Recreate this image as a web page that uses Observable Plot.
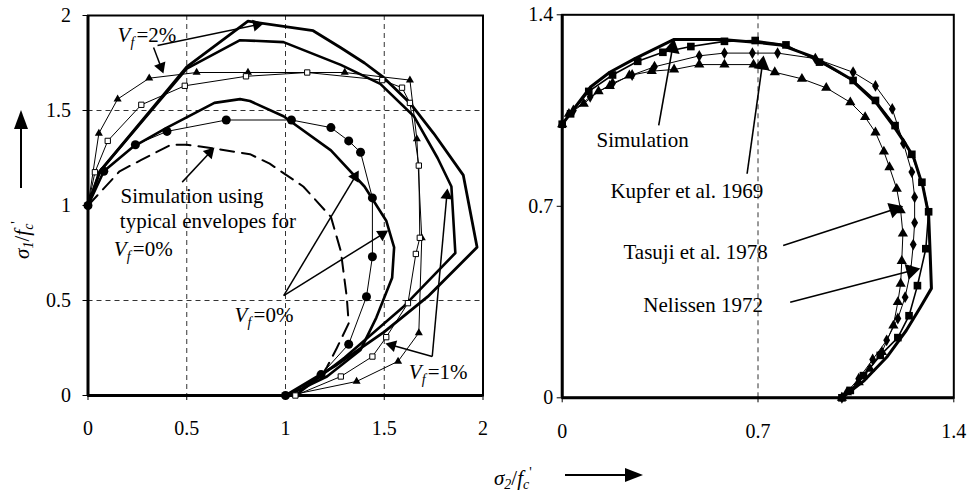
<!DOCTYPE html>
<html><head><meta charset="utf-8">
<script src="https://cdn.jsdelivr.net/npm/d3@7"></script>
<script src="https://cdn.jsdelivr.net/npm/@observablehq/plot@0.6"></script>
<style>
body{margin:0;background:#fff;}
#wrap{position:relative;width:969px;height:491px;font-family:"Liberation Serif","Times New Roman",serif;color:#000;overflow:hidden;}
#left{position:absolute;left:0;top:0;}
#right{position:absolute;left:490px;top:0;}
.ttl{position:absolute;font-size:21px;white-space:nowrap;line-height:21px;}
.ttl sub{font-size:14px;vertical-align:-4px;}
.ttl sup{font-size:14px;vertical-align:8px;}
</style></head><body>
<div id="wrap">
<div id="left"></div><div id="right"></div>
<div class="ttl" style="left:22px;top:240px;transform:translate(-50%,-50%) rotate(-90deg);"><i>σ</i><sub><i>1</i></sub>/<i>f</i><sub><i>c</i></sub><sup>'</sup></div>
<svg style="position:absolute;left:10px;top:105px" width="24" height="90"><line x1="11" y1="83" x2="11" y2="20" stroke="#000" stroke-width="2"/><polygon points="11,5 4,24 18,24" fill="#000"/></svg>
<div class="ttl" style="left:494px;top:462px;"><i>σ</i><sub><i>2</i></sub>/<i>f</i><sub><i>c</i></sub><sup>'</sup></div>
<svg style="position:absolute;left:562px;top:465px" width="90" height="20"><line x1="3" y1="10" x2="68" y2="10" stroke="#000" stroke-width="2"/><polygon points="81,10 63,3 63,17" fill="#000"/></svg>
</div>
<script>
// ---------------- LEFT PANEL DATA ----------------
const leftTicks = [0, 0.5, 1, 1.5, 2];
const leftGridX = [0.5, 1, 1.5];
const leftGridY = [0.5, 1.5];

// Vf = 2% experiment (triangles)
const vf2ExpX = [0, 0.055, 0.15, 0.31, 0.55, 0.81, 1.30, 1.63, 1.665, 1.69, 1.675, 1.57, 1.36, 1.04];
const vf2ExpY = [1, 1.38, 1.56, 1.67, 1.70, 1.70, 1.70, 1.66, 1.35, 0.83, 0.33, 0.18, 0.074, 0.005];
// Vf = 1% experiment (open squares)
const vf1ExpX = [0, 0.035, 0.10, 0.27, 0.49, 0.80, 1.11, 1.49, 1.59, 1.63, 1.675, 1.68, 1.66, 1.62, 1.51, 1.44, 1.28, 1.05];
const vf1ExpY = [1, 1.175, 1.34, 1.53, 1.63, 1.68, 1.70, 1.66, 1.62, 1.54, 1.21, 0.83, 0.745, 0.486, 0.307, 0.205, 0.10, 0];
// Vf = 0% experiment (filled circles)
const vf0ExpX = [0, 0.08, 0.24, 0.40, 0.70, 1.03, 1.23, 1.32, 1.38, 1.44, 1.44, 1.41, 1.32, 1.18, 1.0];
const vf0ExpY = [1, 1.18, 1.32, 1.39, 1.45, 1.45, 1.41, 1.34, 1.28, 1.04, 0.73, 0.52, 0.27, 0.11, 0];
// Simulations (thick)
const vf2SimX = [0, 0.06, 0.5, 0.81, 1.14, 1.28, 1.40, 1.49, 1.63, 1.75, 1.90, 1.97, 1.72, 1.5, 1.25, 1.0];
const vf2SimY = [1, 1.18, 1.73, 1.97, 1.92, 1.83, 1.75, 1.68, 1.54, 1.38, 1.16, 0.78, 0.52, 0.335, 0.155, 0];
const vf1SimX = [0, 0.06, 0.5, 0.77, 0.99, 1.28, 1.48, 1.65, 1.77, 1.84, 1.86, 1.6, 1.3, 1.05];
const vf1SimY = [1, 1.18, 1.72, 1.87, 1.86, 1.74, 1.64, 1.47, 1.25, 1.10, 0.75, 0.47, 0.2, 0];
const vf0SimX = [0, 0.08, 0.23, 0.40, 0.64, 0.77, 0.82, 0.99, 1.23, 1.40, 1.51, 1.55, 1.54, 1.46, 1.38, 1.21, 1.01];
const vf0SimY = [1, 1.18, 1.31, 1.41, 1.54, 1.56, 1.55, 1.47, 1.29, 1.10, 0.92, 0.78, 0.62, 0.41, 0.24, 0.10, 0];
// Simulation with typical envelopes, Vf = 0% (dashed)
const typSimX = [0, 0.16, 0.27, 0.42, 0.50, 0.64, 0.82, 0.92, 1.09, 1.23, 1.28, 1.31, 1.32, 1.26, 1.21, 1.18, 1.0];
const typSimY = [1, 1.18, 1.24, 1.32, 1.32, 1.30, 1.27, 1.22, 1.10, 0.94, 0.76, 0.52, 0.38, 0.25, 0.15, 0.10, 0];

const leftTexts = [
  {x: 0.165, y: 1.011, t: "Simulation using"},
  {x: 0.161, y: 0.879, t: "typical envelopes for"}
];
const leftVf = [
  {x: 0.149, y: 1.858, v: "2%"},
  {x: 0.131, y: 0.732, v: "0%"},
  {x: 0.742, y: 0.389, v: "0%"},
  {x: 1.624, y: 0.089, v: "1%"}
];
const leftArrows = [
  {x1: 0.332, y1: 1.832, x2: 0.382, y2: 1.695},
  {x1: 0.352, y1: 1.842, x2: 0.889, y2: 1.958},
  {x1: 0.477, y1: 1.123, x2: 0.640, y2: 1.305},
  {x1: 0.991, y1: 0.526, x2: 1.371, y2: 1.184},
  {x1: 0.991, y1: 0.526, x2: 1.520, y2: 0.868},
  {x1: 1.743, y1: 0.205, x2: 1.506, y2: 0.274},
  {x1: 1.743, y1: 0.205, x2: 1.820, y2: 1.090}
];

// ---------------- RIGHT PANEL DATA ----------------
const rightTicks = [0, 0.7, 1.4];
const rightGridX = [0.7];
const simRX = [0, 0.10, 0.17, 0.26, 0.40, 0.57, 0.69, 0.78, 0.90, 1.03, 1.125, 1.18, 1.226, 1.256, 1.29, 1.31, 1.315, 1.32, 1.28, 1.23, 1.16, 1.08, 1.0];
const simRY = [1, 1.135, 1.19, 1.24, 1.31, 1.31, 1.30, 1.29, 1.245, 1.166, 1.075, 1.0, 0.93, 0.88, 0.77, 0.67, 0.54, 0.40, 0.33, 0.246, 0.148, 0.063, 0];
const kupferX = [0, 0.03, 0.095, 0.18, 0.27, 0.36, 0.46, 0.58, 0.69, 0.80, 0.92, 1.04, 1.12, 1.19, 1.25, 1.286, 1.31, 1.30, 1.27, 1.24, 1.20, 1.137, 1.077, 1.03, 1.0];
const kupferY = [1, 1.038, 1.12, 1.18, 1.23, 1.263, 1.284, 1.303, 1.306, 1.29, 1.227, 1.16, 1.087, 0.995, 0.89, 0.788, 0.68, 0.545, 0.41, 0.30, 0.22, 0.155, 0.081, 0.027, 0];
const nelissenX = [0, 0.04, 0.10, 0.18, 0.25, 0.33, 0.49, 0.58, 0.68, 0.77, 0.905, 1.04, 1.12, 1.18, 1.22, 1.25, 1.26, 1.26, 1.255, 1.246, 1.226, 1.20, 1.16, 1.11, 1.06, 1.0];
const nelissenY = [1, 1.05, 1.10, 1.15, 1.18, 1.21, 1.25, 1.26, 1.26, 1.26, 1.24, 1.19, 1.14, 1.056, 0.93, 0.825, 0.733, 0.64, 0.56, 0.465, 0.368, 0.29, 0.21, 0.14, 0.07, 0];
const tasujiX = [0, 0.024, 0.077, 0.13, 0.17, 0.24, 0.32, 0.40, 0.49, 0.58, 0.684, 0.76, 0.857, 0.944, 1.03, 1.083, 1.12, 1.15, 1.17, 1.196, 1.21, 1.218, 1.214, 1.21, 1.20, 1.184, 1.143, 1.10, 1.06, 1.018, 1.0];
const tasujiY = [1, 1.038, 1.075, 1.12, 1.14, 1.178, 1.194, 1.20, 1.218, 1.218, 1.218, 1.19, 1.166, 1.133, 1.08, 1.026, 0.97, 0.90, 0.843, 0.764, 0.685, 0.60, 0.50, 0.417, 0.35, 0.264, 0.167, 0.106, 0.057, 0.02, 0];

const rightTexts = [
  {x: 0.1225, y: 0.915, t: "Simulation"},
  {x: 0.1725, y: 0.732, t: "Kupfer et al. 1969"},
  {x: 0.219, y: 0.509, t: "Tasuji et al. 1978"},
  {x: 0.290, y: 0.313, t: "Nelissen 1972"}
];
const rightArrows = [
  {x1: 0.345, y1: 0.996, x2: 0.400, y2: 1.312},
  {x1: 0.661, y1: 0.819, x2: 0.720, y2: 1.251},
  {x1: 0.790, y1: 0.557, x2: 1.219, y2: 0.700},
  {x1: 0.815, y1: 0.349, x2: 1.280, y2: 0.473}
];

// ---------------- HELPERS ----------------
const pts = (xs, ys) => xs.map((x, i) => ({x, y: ys[i]}));
const FONT = "'Liberation Serif', 'Times New Roman', serif";

function arrowMarks(arrows, xDom, xRng, yDom, yRng, headR, sw) {
  const xs = d3.scaleLinear(xDom, xRng), ys = d3.scaleLinear(yDom, yRng);
  const k = 2 * Math.sqrt(Math.PI * headR * headR / (3 * Math.sqrt(3)));
  const segs = arrows.map(a => {
    const px1 = xs(a.x1), py1 = ys(a.y1), px2 = xs(a.x2), py2 = ys(a.y2);
    const dx = px2 - px1, dy = py2 - py1, len = Math.hypot(dx, dy);
    const ux = dx / len, uy = dy / len;
    return {
      x1: a.x1, y1: a.y1,
      cx: xs.invert(px2 - ux * k), cy: ys.invert(py2 - uy * k),
      rot: Math.atan2(ux, -uy) * 180 / Math.PI
    };
  });
  return [
    Plot.link(segs, {x1: "x1", y1: "y1", x2: "cx", y2: "cy", stroke: "#000", strokeWidth: sw}),
    Plot.dot(segs, {x: "cx", y: "cy", symbol: "triangle", r: headR, rotate: "rot", fill: "#000", stroke: "none"})
  ];
}

function vfMarks(labels) {
  return [
    Plot.text(labels, {x: "x", y: "y", text: () => "V", fontStyle: "italic", fontSize: 21, textAnchor: "start", lineAnchor: "bottom"}),
    Plot.text(labels, {x: "x", y: "y", text: () => "f", fontStyle: "italic", fontSize: 14, textAnchor: "start", lineAnchor: "bottom", dx: 13, dy: 5}),
    Plot.text(labels, {x: "x", y: "y", text: d => "=" + d.v, fontSize: 21, textAnchor: "start", lineAnchor: "bottom", dx: 19})
  ];
}

// ---------------- LEFT PLOT ----------------
const L = {width: 490, height: 470, ml: 87.5, mr: 7.5, mt: 15, mb: 75};
const leftPlot = Plot.plot({
  width: L.width, height: L.height,
  marginLeft: L.ml, marginRight: L.mr, marginTop: L.mt, marginBottom: L.mb,
  style: {fontFamily: FONT, fontSize: "20px", background: "transparent", color: "#000", overflow: "visible"},
  x: {domain: [0, 2], ticks: leftTicks, tickFormat: d => String(d), tickSize: 5, tickPadding: 20, label: null},
  y: {domain: [0, 2], ticks: leftTicks, tickFormat: d => String(d), tickSize: 5, tickPadding: 12, label: null},
  marks: [
    Plot.ruleX(leftGridX, {stroke: "#333", strokeWidth: 1, strokeDasharray: "5,4"}),
    Plot.ruleY(leftGridY, {stroke: "#333", strokeWidth: 1, strokeDasharray: "5,4"}),
    Plot.frame({stroke: "#000", strokeWidth: 2}),
    Plot.ruleX([0], {stroke: "#000", strokeWidth: 3}),
    Plot.ruleY([0], {stroke: "#000", strokeWidth: 3}),
    Plot.line(pts(typSimX, typSimY), {x: "x", y: "y", stroke: "#000", strokeWidth: 2, strokeDasharray: "14,8"}),
    Plot.line(pts(vf2SimX, vf2SimY), {x: "x", y: "y", stroke: "#000", strokeWidth: 2.8}),
    Plot.line(pts(vf1SimX, vf1SimY), {x: "x", y: "y", stroke: "#000", strokeWidth: 2.6}),
    Plot.line(pts(vf0SimX, vf0SimY), {x: "x", y: "y", stroke: "#000", strokeWidth: 2.6}),
    Plot.line(pts(vf2ExpX, vf2ExpY), {x: "x", y: "y", stroke: "#000", strokeWidth: 1}),
    Plot.line(pts(vf1ExpX, vf1ExpY), {x: "x", y: "y", stroke: "#000", strokeWidth: 1}),
    Plot.line(pts(vf0ExpX, vf0ExpY), {x: "x", y: "y", stroke: "#000", strokeWidth: 1}),
    Plot.dot(pts(vf2ExpX, vf2ExpY), {x: "x", y: "y", symbol: "triangle", r: 3, fill: "#000", stroke: "none"}),
    Plot.dot(pts(vf1ExpX, vf1ExpY), {x: "x", y: "y", symbol: "square", r: 3, fill: "#fff", stroke: "#000", strokeWidth: 1}),
    Plot.dot(pts(vf0ExpX, vf0ExpY), {x: "x", y: "y", symbol: "circle", r: 4.5, fill: "#000", stroke: "none"}),
    ...arrowMarks(leftArrows, [0, 2], [L.ml, L.width - L.mr], [0, 2], [L.height - L.mb, L.mt], 4.5, 1.5),
    Plot.text(leftTexts, {x: "x", y: "y", text: "t", fontSize: 21, textAnchor: "start", lineAnchor: "bottom"}),
    ...vfMarks(leftVf)
  ]
});
document.getElementById("left").appendChild(leftPlot);

// ---------------- RIGHT PLOT ----------------
const R = {width: 479, height: 470, ml: 71.7, mr: 15.7, mt: 14.3, mb: 72.7};
const rightPlot = Plot.plot({
  width: R.width, height: R.height,
  marginLeft: R.ml, marginRight: R.mr, marginTop: R.mt, marginBottom: R.mb,
  style: {fontFamily: FONT, fontSize: "20px", background: "transparent", color: "#000", overflow: "visible"},
  x: {domain: [0, 1.4], ticks: rightTicks, tickFormat: d => String(d), tickSize: 5, tickPadding: 21, label: null},
  y: {domain: [0, 1.4], ticks: rightTicks, tickFormat: d => String(d), tickSize: 5, tickPadding: 4, label: null},
  marks: [
    Plot.ruleX(rightGridX, {stroke: "#333", strokeWidth: 1, strokeDasharray: "5,4"}),
    Plot.frame({stroke: "#000", strokeWidth: 2}),
    Plot.ruleX([0], {stroke: "#000", strokeWidth: 3}),
    Plot.ruleY([0], {stroke: "#000", strokeWidth: 3}),
    Plot.line(pts(tasujiX, tasujiY), {x: "x", y: "y", stroke: "#000", strokeWidth: 1}),
    Plot.line(pts(nelissenX, nelissenY), {x: "x", y: "y", stroke: "#000", strokeWidth: 1}),
    Plot.line(pts(kupferX, kupferY), {x: "x", y: "y", stroke: "#000", strokeWidth: 1.6}),
    Plot.line(pts(simRX, simRY), {x: "x", y: "y", stroke: "#000", strokeWidth: 3}),
    Plot.dot(pts(tasujiX, tasujiY), {x: "x", y: "y", symbol: "triangle", r: 3.8, fill: "#000", stroke: "none"}),
    Plot.dot(pts(nelissenX, nelissenY), {x: "x", y: "y", symbol: "diamond", r: 3.6, fill: "#000", stroke: "none"}),
    Plot.dot(pts(kupferX, kupferY), {x: "x", y: "y", symbol: "square", r: 4.3, fill: "#000", stroke: "none"}),
    ...arrowMarks(rightArrows, [0, 1.4], [R.ml, R.width - R.mr], [0, 1.4], [R.height - R.mb, R.mt], 6, 1.6),
    Plot.text(rightTexts, {x: "x", y: "y", text: "t", fontSize: 21, textAnchor: "start", lineAnchor: "bottom"})
  ]
});
document.getElementById("right").appendChild(rightPlot);
</script>
</body></html>
